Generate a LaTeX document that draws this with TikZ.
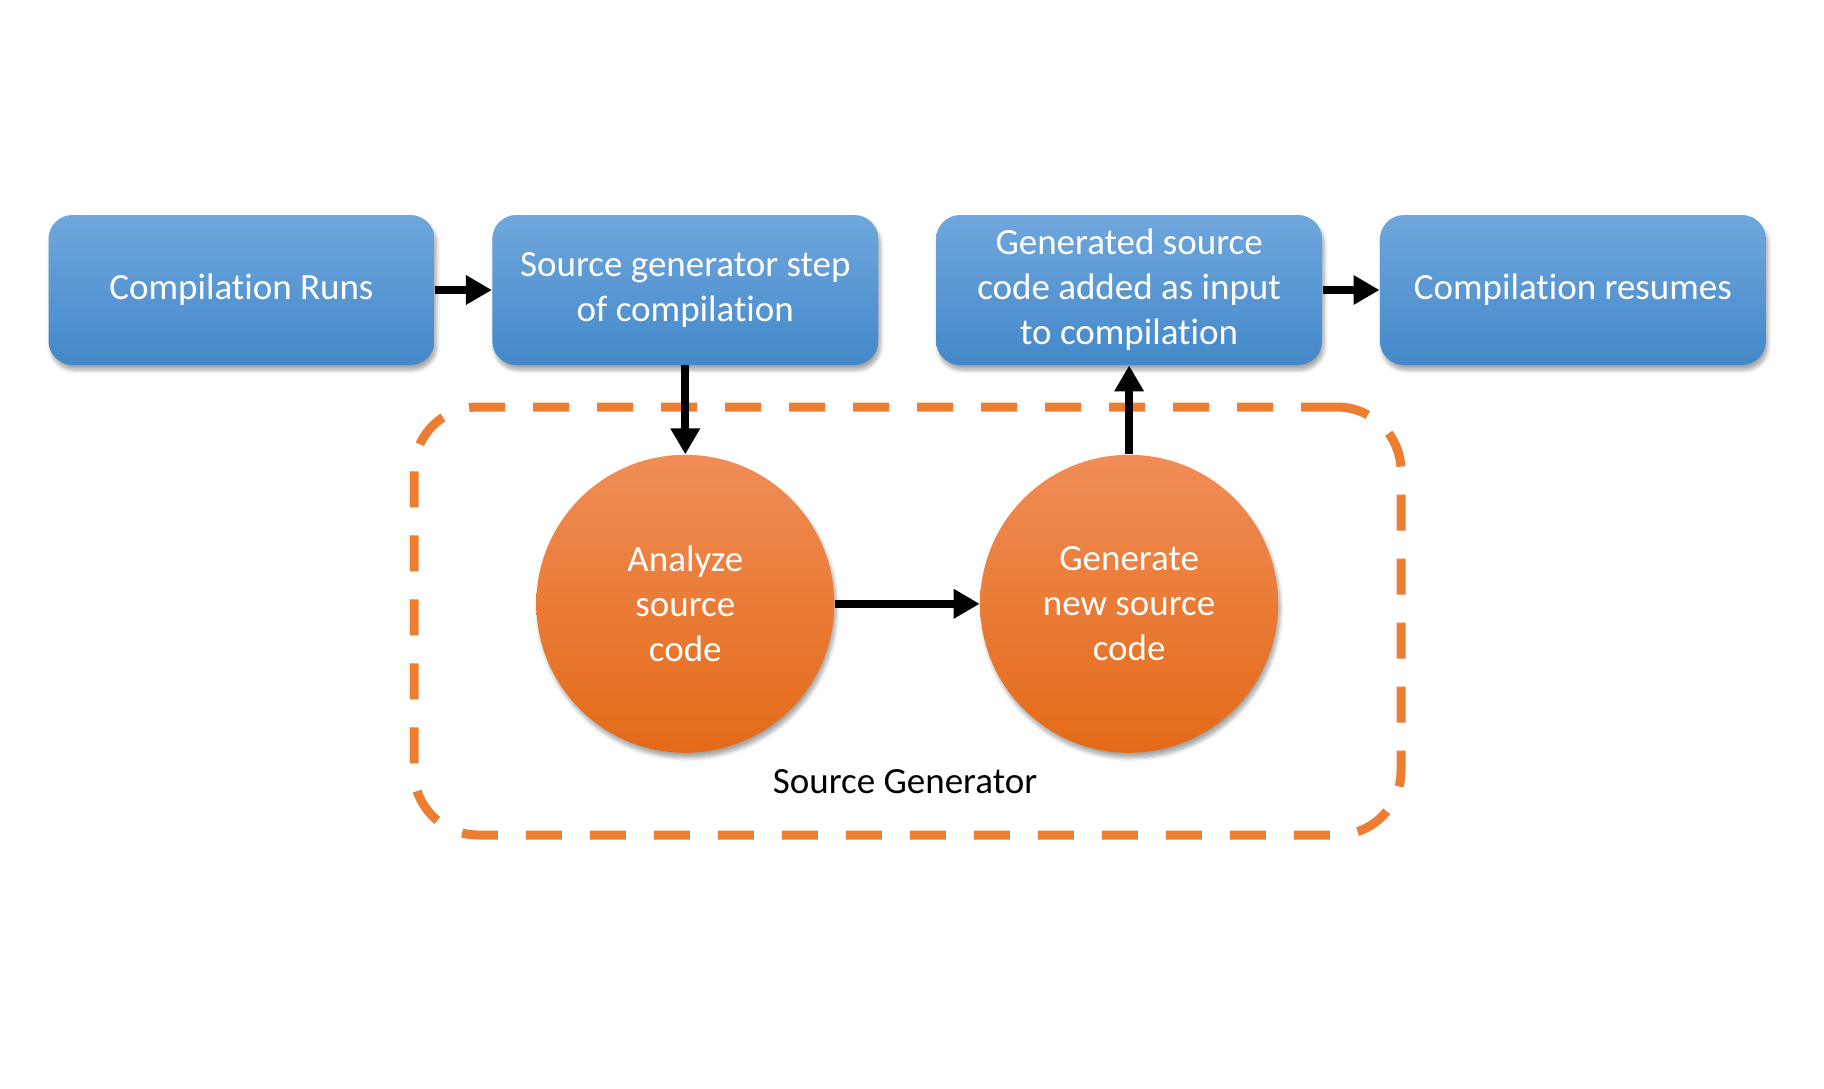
\documentclass[tikz,border=0pt]{standalone}
\usepackage{fontspec}
\setmainfont{Carlito}[RawFeature={-liga;-clig;-dlig;-calt}]
\usepackage{xcolor}
\usepackage{tikz}
\usetikzlibrary{arrows.meta, positioning, shadows.blur}

\definecolor{boxtop}{HTML}{70A7DD}
\definecolor{boxbot}{HTML}{4388C9}
\definecolor{circtop}{HTML}{F08D56}
\definecolor{circbot}{HTML}{E46A18}
\definecolor{dashorange}{HTML}{ED7D31}

\begin{document}
\begin{tikzpicture}[x=0.5pt, y=-0.5pt, node distance=44.5pt and 28.5pt,
    >={Stealth[length=13pt, width=14pt, inset=0pt]},
    txt/.style={font=\fontsize{18.5}{22.5}\selectfont},
    stepbox/.style={txt, rounded corners=12pt, top color=boxtop, bottom color=boxbot, text=white, align=center,
        minimum width=193pt, minimum height=75pt, inner sep=2pt,
        execute at begin node={\vspace*{3.5pt}},
        blur shadow={shadow xshift=1pt, shadow yshift=-2.5pt, shadow blur steps=6, shadow opacity=35}},
    phase/.style={txt, circle, top color=circtop, bottom color=circbot, text=white, align=center,
        minimum size=149pt, inner sep=0pt,
        blur shadow={shadow xshift=1pt, shadow yshift=-2.5pt, shadow blur steps=6, shadow opacity=35}},
    flow/.style={->, line width=4pt}]
    \useasboundingbox (0,0) rectangle (1824,1088);

    % Source generator frame
    \node[draw=dashorange, line width=4.5pt, dash pattern=on 18pt off 14pt, rounded corners=32pt,
        minimum width=493.5pt, minimum height=214pt] (frame) at (907.5,621) {};
    \node[txt, text=black] (framelabel) at (905,782) {Source Generator};

    % Compilation steps
    \node[stepbox] (runs) at (241.5,290) {Compilation Runs};
    \node[stepbox, right=of runs] (genstep) {Source generator step\\of compilation};
    \node[stepbox, right=of genstep] (added) {Generated source\\code added as input\\to compilation};
    \node[stepbox, right=of added] (resumes) {Compilation resumes};

    % Generator phases
    \node[phase, below=of genstep] (analyze) {Analyze\\source\\code};
    \node[phase, below=of added] (generate) {Generate\\new source\\code};

    % Flow
    \draw[flow] (runs) -- (genstep);
    \draw[flow] (genstep) -- (analyze);
    \draw[flow] (analyze) -- (generate);
    \draw[flow] (generate) -- (added);
    \draw[flow] (added) -- (resumes);
\end{tikzpicture}
\end{document}
